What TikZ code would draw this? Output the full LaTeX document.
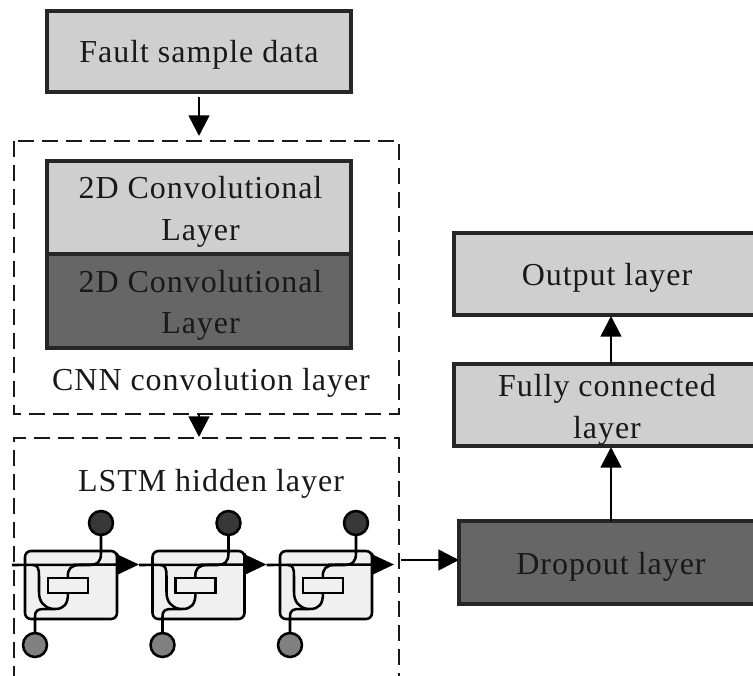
\documentclass[tikz,border=0pt]{standalone}
\usepackage{fontspec}
\setmainfont{Liberation Serif}
\usetikzlibrary{arrows.meta}
\newfontfamily\spaced[LetterSpace=3]{Liberation Serif}
\tikzset{
  lbl/.style={font=\spaced\fontsize{24}{31}\selectfont,text=black!90,align=center,inner sep=0pt},
  blockbox/.style={draw=black!85,line width=2.4pt,inner sep=0pt,outer sep=0pt,anchor=north west},
  light/.style={blockbox,fill=black!19},
  darkb/.style={blockbox,fill=black!60},
  groupbox/.style={draw=black!90,line width=2.2pt,dash pattern=on 12pt off 6pt},
  conn/.style={draw=black,line width=2pt,-{Triangle[length=15.5pt,width=15.5pt]}},
  cell/.style={draw=black,line width=1.9pt,fill=black!6,rounded corners=4.5pt,inner sep=0pt,outer sep=0pt,minimum width=69pt,minimum height=51pt},
  gate/.style={draw=black,line width=1.9pt,fill=black!6,inner sep=0pt,outer sep=0pt,minimum width=30pt,minimum height=11.5pt},
  topdot/.style={circle,draw=black,line width=1.9pt,fill=black!78,minimum size=18pt,inner sep=0pt,outer sep=0pt},
  botdot/.style={circle,draw=black,line width=1.9pt,fill=black!50,minimum size=18pt,inner sep=0pt,outer sep=0pt},
  wire/.style={draw=black,line width=1.9pt,line join=round},
  flow/.style={draw=black,line width=1.9pt,-{Triangle[length=16pt,width=14.5pt]}}
}
\begin{document}
\begin{tikzpicture}[x=0.75pt,y=-0.75pt]
\useasboundingbox (0,0) rectangle (753,675);
\begin{scope}
\clip (0,0) rectangle (753,675);
% blocks
\node[light,minimum width=228pt,minimum height=60.75pt] (fault) at (47,11) {};
\node[lbl] at (199,55) {Fault sample data};
\node[light,minimum width=228pt,minimum height=69.75pt] (convA) at (47,161) {};
\node[lbl] at (200.5,212) {2D Convolutional\\Layer};
\node[darkb,minimum width=228pt,minimum height=70.5pt] (convB) at (47,254) {};
\node[lbl] at (200.5,305.5) {2D Convolutional\\Layer};
\node[lbl] (cnnlabel) at (211,383) {CNN convolution layer};
\node[lbl] (lstmlabel) at (211,484) {LSTM hidden layer};
\node[light,minimum width=230pt,minimum height=61.5pt] (output) at (454,233) {};
\node[lbl] at (607,278) {Output layer};
\node[light,minimum width=230pt,minimum height=61.5pt] (full) at (454,364) {};
\node[lbl] at (607,410) {Fully connected\\layer};
\node[darkb,minimum width=226pt,minimum height=62.25pt] (drop) at (459,521) {};
\node[lbl] at (611,567) {Dropout layer};
% dashed groups
\coordinate (g1a) at (14,141); \coordinate (g1b) at (399,414);
\draw[groupbox] (g1a) rectangle (g1b);
\coordinate (g2a) at (14,682); \coordinate (g2b) at (14,438); \coordinate (g2c) at (399,438); \coordinate (g2d) at (399,682);
\draw[groupbox] (g2a) -- (g2b) -- (g2c) -- (g2d);
% main connectors
\coordinate (a1s) at (199,97); \coordinate (a1e) at (199,136);
\draw[conn] (a1s) -- (a1e);
\coordinate (a2s) at (199,414); \coordinate (a2e) at (199,437);
\draw[conn] (a2s) -- (a2e);
\coordinate (a3s) at (401,560);
\draw[conn] (a3s) -- (drop.west |- a3s);
\coordinate (dropTop) at (611,521); \coordinate (fullBot) at (611,447);
\coordinate (fullTop) at (611,364); \coordinate (outBot) at (611,316);
\draw[conn] (dropTop) -- (fullBot);
\draw[conn] (fullTop) -- (outBot);
% LSTM cells
\coordinate (chain) at (12,565);
\foreach \n/\dx in {1/0,2/127.5,3/255}{
  \begin{scope}[shift={(\dx,0)}]
  \draw[line width=1.2pt,black] (117,553) .. controls (121,559) and (121,567) .. (117,573);
  \node[cell] (cell\n) at (71,585) {};
  \node[topdot] (top\n) at (101,523) {};
  \node[botdot] (bot\n) at (35,645) {};
  \node[gate] (gate\n) at (68,585.5) {};
  \coordinate (tip\n) at (139,564.5);
  \draw[wire] (top\n.south) -- (101,553) .. controls (101,562) and (97,565) .. (90,565) -- (80,565) .. controls (71,565) and (67,569) .. (gate\n.north);
  \draw[wire] (bot\n.north) -- (35,617) .. controls (35,610) and (38,609) .. (45,609) -- (55,609) .. controls (64,609) and (68,604) .. (gate\n.south);
  \draw[wire] (33,565) .. controls (38,565) and (39,569) .. (39,576) -- (39,592) .. controls (39,602) and (44,607) .. (52,609);
  \end{scope}
}
\draw[flow] (chain) -- (tip1);
\draw[flow] (139,565) -- (tip2);
\draw[flow] (266.5,565) -- (tip3);
\end{scope}
\end{tikzpicture}
\end{document}
